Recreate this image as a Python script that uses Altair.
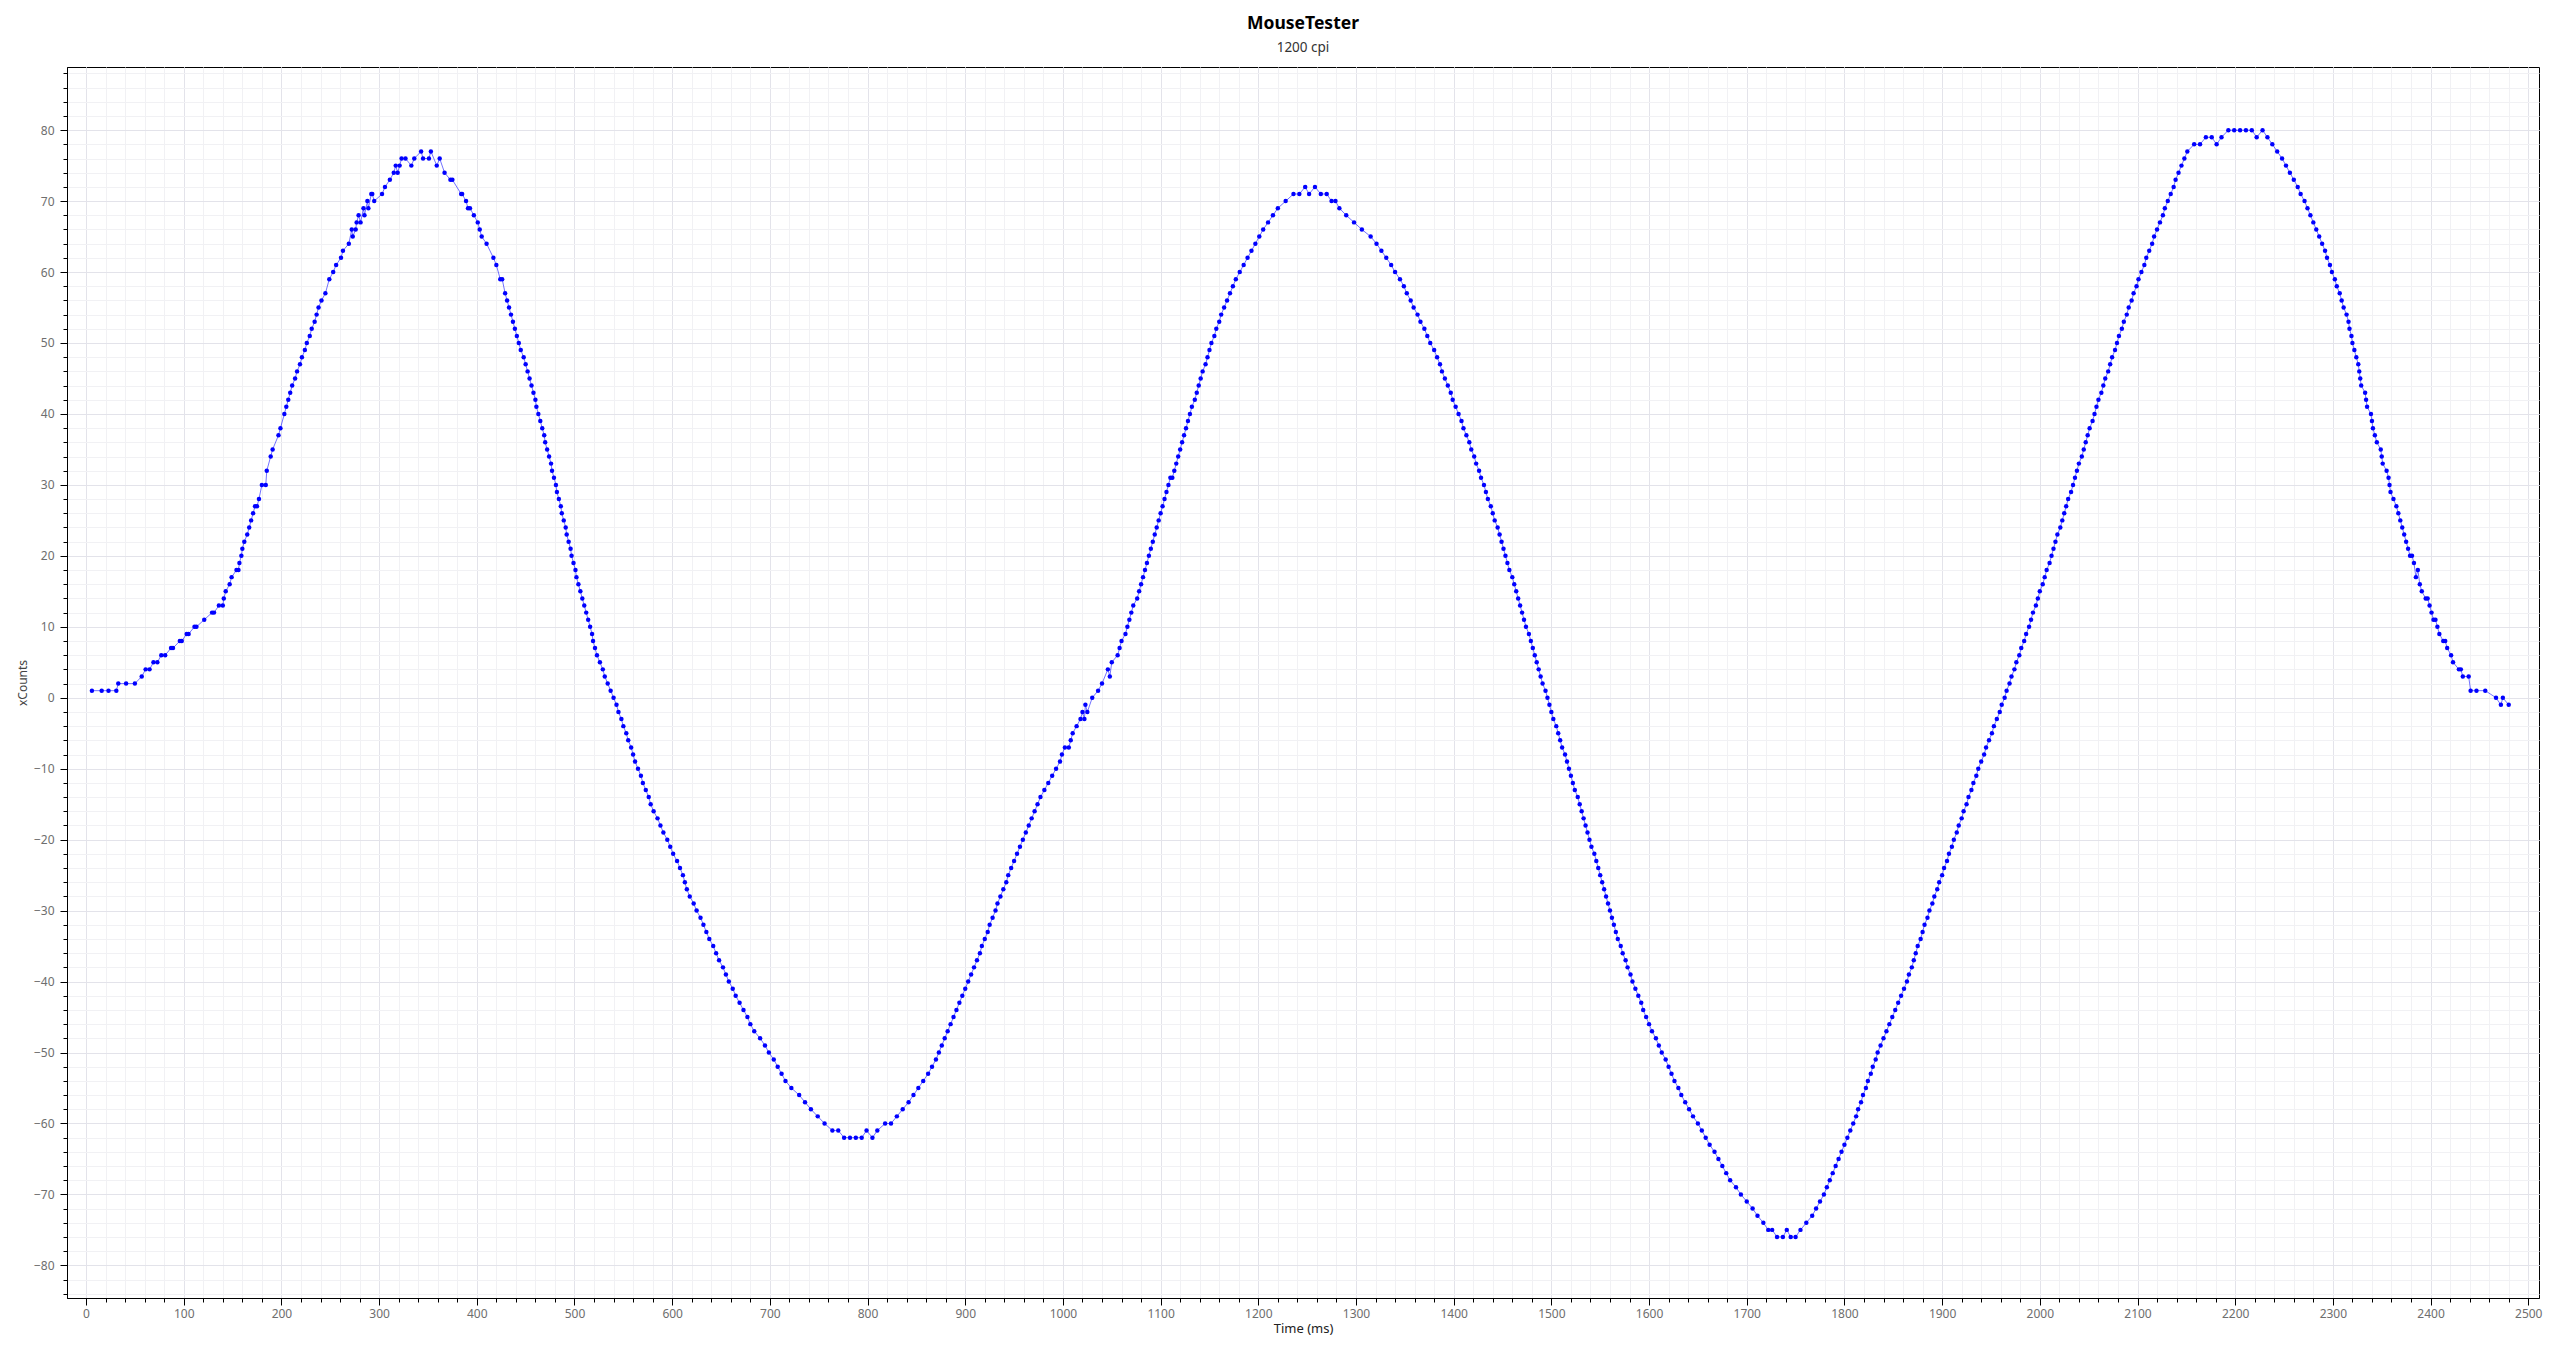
import altair as alt
import pandas as pd

# ---- data: (time ms, xCounts) ----
T1 = [6,16,23,31,33,41,50,57,61,65,
      69,73,77,81,87,89,96,98,103,105,
      111,113,121,129,131,136,140,141,143,147,
      149,154,156,157,159,160,162,165,167,169,
      171,173,175,177,180,184,185,189,191,197,
      199,203,205,207,209,211,214,216,219,221,
      224,226,229,231,234,236,238,241,245,249,
      253,256,261,263,269,272,273,276,277,279,
      281,284,285,288,289,292,293,295,303,306,
      311,315,317,319,321,323,327,333,336,343,
      345,351,353,359,362,367,373,375,384,385,
      389,391,393,397,401,403,405,410,417,420,
      424,426,429]
V1 = [1,1,1,1,2,2,2,3,4,4,
      5,5,6,6,7,7,8,8,9,9,
      10,10,11,12,12,13,13,14,15,16,
      17,18,18,19,20,21,22,23,24,25,
      26,27,27,28,30,30,32,34,35,37,
      38,40,41,42,43,44,45,46,47,48,
      49,50,51,52,53,54,55,56,57,59,
      60,61,62,63,64,66,65,66,67,68,
      67,69,68,70,69,71,71,70,71,72,
      73,74,75,74,75,76,76,75,76,77,
      76,76,77,75,76,74,73,73,71,71,
      70,69,69,68,67,66,65,64,62,61,
      59,59,57]

T2 = [431,433,435,437,439,441,443,445,448,450,
      452,454,456,458,460,461,463,465,467,469,
      470,472,474,476,477,479,481,482,484,486,
      487,489,491,492,494,496,497,499,501,502,
      504,506,508,510,512,514,516,518,519,521,
      523,526,529,531,534,537,540,543,545,548,
      550,553,555,558,560,562,565,568,570,573,
      576,578,581,585,588,591,595,598,601,605,
      608,611,613,615,618,622,625,629,632,635,
      638,642,645,648,652,655,658,662,665,669,
      673,677,680,684,690,695,699,704,708,712,
      716,722,730,736,742,749,756,764,770,776,
      782,788,794]
V2 = [56,55,54,53,52,51,50,49,48,47,
      46,45,44,43,42,41,40,39,38,37,
      36,35,34,33,32,31,30,29,28,27,
      26,25,24,23,22,21,20,19,18,17,
      16,15,14,13,12,11,10,9,8,7,
      6,5,4,3,2,1,0,-1,-2,-3,
      -4,-5,-6,-7,-8,-9,-10,-11,-12,-13,
      -14,-15,-16,-17,-18,-19,-20,-21,-22,-23,
      -24,-25,-26,-27,-28,-29,-30,-31,-32,-33,
      -34,-35,-36,-37,-38,-39,-40,-41,-42,-43,
      -44,-45,-46,-47,-48,-49,-50,-51,-52,-53,
      -54,-55,-56,-57,-58,-59,-60,-61,-61,-62,
      -62,-62,-62]

T3 = [799,805,810,818,824,830,836,842,847,852,
      857,862,866,870,873,876,879,882,885,888,
      891,894,897,900,903,906,909,912,915,917,
      920,923,925,928,931,933,936,939,942,944,
      947,950,953,956,959,962,965,968,971,974,
      977,981,985,989,993,997,999,1002,1006,1008,
      1010,1014,1018,1020,1022,1023,1025,1030,1036,1040,
      1046,1048,1050,1056,1058,1060,1064,1066,1068,1070,
      1072,1076,1078,1080,1082,1084,1086,1088,1090,1092,
      1094,1096,1098,1100,1102,1104,1106,1108,1110,1112,
      1114,1116,1118,1120,1122,1124,1126,1128,1130,1132,
      1135,1137,1139,1141,1143,1146,1148,1150,1152,1155,
      1157,1160,1162,1165,1168,1171,1174,1177,1181,1185,
      1189,1193,1197,1201,1205,1210,1215,1220,1228,1236,
      1242,1248,1252,1258,1264,1270]
V3 = [-61,-62,-61,-60,-60,-59,-58,-57,-56,-55,
      -54,-53,-52,-51,-50,-49,-48,-47,-46,-45,
      -44,-43,-42,-41,-40,-39,-38,-37,-36,-35,
      -34,-33,-32,-31,-30,-29,-28,-27,-26,-25,
      -24,-23,-22,-21,-20,-19,-18,-17,-16,-15,
      -14,-13,-12,-11,-10,-9,-8,-7,-7,-6,
      -5,-4,-3,-2,-3,-1,-2,0,1,2,
      4,3,5,6,7,8,9,10,11,12,
      13,14,15,16,17,18,19,20,21,22,
      23,24,25,26,27,28,29,30,31,31,
      32,33,34,35,36,37,38,39,40,41,
      42,43,44,45,46,47,48,49,50,51,
      52,53,54,55,56,57,58,59,60,61,
      62,63,64,65,66,67,68,69,70,71,
      71,72,71,72,71,71]

T4 = [1275,1279,1283,1290,1298,1306,1315,1321,1326,1331,
      1336,1340,1345,1349,1352,1356,1359,1363,1366,1370,
      1373,1376,1380,1383,1386,1388,1391,1394,1397,1399,
      1402,1405,1408,1410,1413,1416,1418,1421,1423,1426,
      1428,1431,1433,1435,1438,1440,1442,1445,1447,1449,
      1451,1453,1455,1457,1460,1462,1464,1466,1468,1470,
      1472,1474,1477,1479,1481,1483,1485,1487,1489,1491,
      1494,1496,1498,1500,1502,1505,1507,1509,1511,1514,
      1516,1518,1520,1522,1524,1527,1529,1531,1533,1535,
      1537,1539,1541,1544,1546,1548,1550,1552,1554,1556,
      1558,1560,1562,1564,1566,1568,1571,1573,1576,1578,
      1581,1583,1586,1589,1592,1594,1597,1600,1603,1607,
      1610,1613,1617,1620,1623,1626,1630,1633,1637,1641,
      1645,1650,1654,1658,1662,1667,1671,1675,1679,1683,
      1689,1694,1700,1706,1711,1717,1722,1726,1731,1737,
      1741,1745,1750,1755]
V4 = [70,70,69,68,67,66,65,64,63,62,
      61,60,59,58,57,56,55,54,53,52,
      51,50,49,48,47,46,45,44,43,42,
      41,40,39,38,37,36,35,34,33,32,
      31,30,29,28,27,26,25,24,23,22,
      21,20,19,18,17,16,15,14,13,12,
      11,10,9,8,7,6,5,4,3,2,
      1,0,-1,-2,-3,-4,-5,-6,-7,-8,
      -9,-10,-11,-12,-13,-14,-15,-16,-17,-18,
      -19,-20,-21,-22,-23,-24,-25,-26,-27,-28,
      -29,-30,-31,-32,-33,-34,-35,-36,-37,-38,
      -39,-40,-41,-42,-43,-44,-45,-46,-47,-48,
      -49,-50,-51,-52,-53,-54,-55,-56,-57,-58,
      -59,-60,-61,-62,-63,-64,-65,-66,-67,-68,
      -69,-70,-71,-72,-73,-74,-75,-75,-76,-76,
      -75,-76,-76,-75]

T5 = [1761,1767,1771,1775,1779,1782,1785,1788,1791,1794,
      1797,1800,1803,1806,1809,1812,1814,1817,1819,1822,
      1824,1827,1829,1832,1834,1837,1840,1843,1846,1849,
      1852,1855,1858,1861,1864,1866,1869,1871,1873,1875,
      1878,1880,1882,1885,1887,1890,1892,1895,1897,1900,
      1902,1905,1907,1910,1912,1915,1917,1920,1922,1925,
      1927,1930,1932,1935,1937,1940,1943,1945,1948,1951,
      1953,1956,1959,1961,1964,1966,1969,1971,1974,1976,
      1979,1981,1984,1986,1989,1991,1993,1996,1998,2000,
      2003,2005,2007,2010,2012,2014,2016,2018,2021,2023,
      2025,2027,2029,2032,2034,2036,2038,2040,2043,2045,
      2047,2049,2051,2054,2056,2058,2060,2063,2065,2067,
      2070,2072,2074,2077,2079,2081,2084,2086,2089,2091,
      2094,2096,2099,2101,2104,2107,2109,2112,2115,2117,
      2120,2123,2126,2128,2131,2134,2137,2139,2142,2145,
      2148,2151,2158,2164,2170,2176,2181,2186,2193,2199,
      2205,2211,2217,2222,2228,2233,2238]
V5 = [-74,-73,-72,-71,-70,-69,-68,-67,-66,-65,
      -64,-63,-62,-61,-60,-59,-58,-57,-56,-55,
      -54,-53,-52,-51,-50,-49,-48,-47,-46,-45,
      -44,-43,-42,-41,-40,-39,-38,-37,-36,-35,
      -34,-33,-32,-31,-30,-29,-28,-27,-26,-25,
      -24,-23,-22,-21,-20,-19,-18,-17,-16,-15,
      -14,-13,-12,-11,-10,-9,-8,-7,-6,-5,
      -4,-3,-2,-1,0,1,2,3,4,5,
      6,7,8,9,10,11,12,13,14,15,
      16,17,18,19,20,21,22,23,24,25,
      26,27,28,29,30,31,32,33,34,35,
      36,37,38,39,40,41,42,43,44,45,
      46,47,48,49,50,51,52,53,54,55,
      56,57,58,59,60,61,62,63,64,65,
      66,67,68,69,70,71,72,73,74,75,
      76,77,78,78,79,79,78,79,80,80,
      80,80,80,79,80,79,78]

T6 = [2243,2248,2252,2256,2260,2264,2267,2271,2274,2277,
      2280,2283,2286,2289,2292,2294,2297,2299,2302,2304,
      2307,2309,2311,2314,2316,2317,2319,2320,2322,2324,
      2326,2327,2328,2329,2333,2334,2335,2339,2340,2341,
      2343,2345,2349,2350,2351,2355,2357,2358,2359,2362,
      2365,2367,2369,2371,2373,2375,2377,2379,2381,2383,
      2385,2387,2389,2391,2395,2397,2399,2401,2403,2405,
      2407,2409,2413,2415,2417,2421,2423,2429,2431,2433,
      2439,2441,2447,2456,2467,2472,2474,2480]
V6 = [77,76,75,74,73,72,71,70,69,68,
      67,66,65,64,63,62,61,60,59,58,
      57,56,55,54,53,52,51,50,49,48,
      47,46,45,44,43,42,41,40,39,38,
      37,36,35,34,33,32,31,30,29,28,
      27,26,25,24,23,22,21,20,20,19,
      17,18,16,15,14,14,13,12,11,11,
      10,9,8,8,7,6,5,4,4,3,
      3,1,1,1,0,-1,0,-1]

TITLE = "MouseTester"
SUBTITLE = "1200 cpi"
X_TITLE = "Time (ms)"
Y_TITLE = "xCounts"
X_MAJOR = list(range(0, 2501, 100))
X_MINOR = list(range(0, 2511, 20))
Y_MAJOR = list(range(-80, 81, 10))
Y_MINOR = list(range(-84, 89, 2))

rows = []
for ts, vs in [(T1, V1), (T2, V2), (T3, V3), (T4, V4), (T5, V5), (T6, V6)]:
    for t, v in zip(ts, vs):
        rows.append({"t": t, "v": v})
df = pd.DataFrame(rows)

FONT = "Noto Sans"
xs = alt.Scale(domain=[-19.5, 2511], nice=False, zero=False)
ys = alt.Scale(domain=[-84.6, 88.9], nice=False, zero=False)

base = alt.Chart(df)

minor = base.mark_point(opacity=0).encode(
    x=alt.X("t:Q", scale=xs, axis=alt.Axis(
        orient="bottom", values=X_MINOR, labels=False, title=None, domain=False,
        tickSize=4, tickColor="#000000", tickWidth=1,
        grid=True, gridColor="#f1f1f4", gridWidth=1)),
    y=alt.Y("v:Q", scale=ys, axis=alt.Axis(
        orient="left", values=Y_MINOR, labels=False, title=None, domain=False,
        tickSize=4, tickColor="#000000", tickWidth=1,
        grid=True, gridColor="#f1f1f4", gridWidth=1)),
)

major = base.mark_point(opacity=0).encode(
    x=alt.X("t:Q", scale=xs, axis=alt.Axis(
        orient="bottom", values=X_MAJOR, format="d", title=X_TITLE,
        domain=True, domainColor="#000000", domainWidth=1,
        tickSize=7, tickColor="#000000", tickWidth=1,
        labelFont=FONT, labelFontSize=12, labelColor="#6e6e6e", labelPadding=3,
        titleFont=FONT, titleFontSize=13, titleFontWeight="normal", titleColor="#222222",
        titlePadding=3,
        grid=True, gridColor="#e3e3ea", gridWidth=1)),
    y=alt.Y("v:Q", scale=ys, axis=alt.Axis(
        orient="left", values=Y_MAJOR, format="d", title=Y_TITLE,
        domain=True, domainColor="#000000", domainWidth=1,
        tickSize=7, tickColor="#000000", tickWidth=1,
        labelFont=FONT, labelFontSize=12, labelColor="#6e6e6e", labelPadding=6,
        titleFont=FONT, titleFontSize=12, titleFontWeight="normal", titleColor="#444444",
        titlePadding=4,
        grid=True, gridColor="#e3e3ea", gridWidth=1)),
)

line = base.mark_line(color="#0000ff", strokeWidth=1, opacity=0.55).encode(
    x=alt.X("t:Q", scale=xs, axis=None),
    y=alt.Y("v:Q", scale=ys, axis=None),
    order="t:Q",
)

pts = base.mark_circle(color="#0000ff", size=20, opacity=1).encode(
    x=alt.X("t:Q", scale=xs, axis=None),
    y=alt.Y("v:Q", scale=ys, axis=None),
)

chart = alt.layer(minor, major, line, pts).resolve_axis(
    x="independent", y="independent"
).properties(
    width=2472,
    height=1231,
    padding={"left": 59, "top": 59, "right": 13, "bottom": 46},
    autosize=alt.AutoSizeParams(type="none"),
    title=alt.TitleParams(
        TITLE, subtitle=SUBTITLE, anchor="middle", frame="group",
        font=FONT, fontSize=17.5, fontWeight="bold", color="#000000",
        subtitleFont=FONT, subtitleFontSize=13.5, subtitleColor="#333333",
        subtitlePadding=8, offset=13,
    ),
).configure_view(stroke="#000000", strokeWidth=1)

chart.save("out.html", embed_options={"renderer": "svg", "actions": False})
